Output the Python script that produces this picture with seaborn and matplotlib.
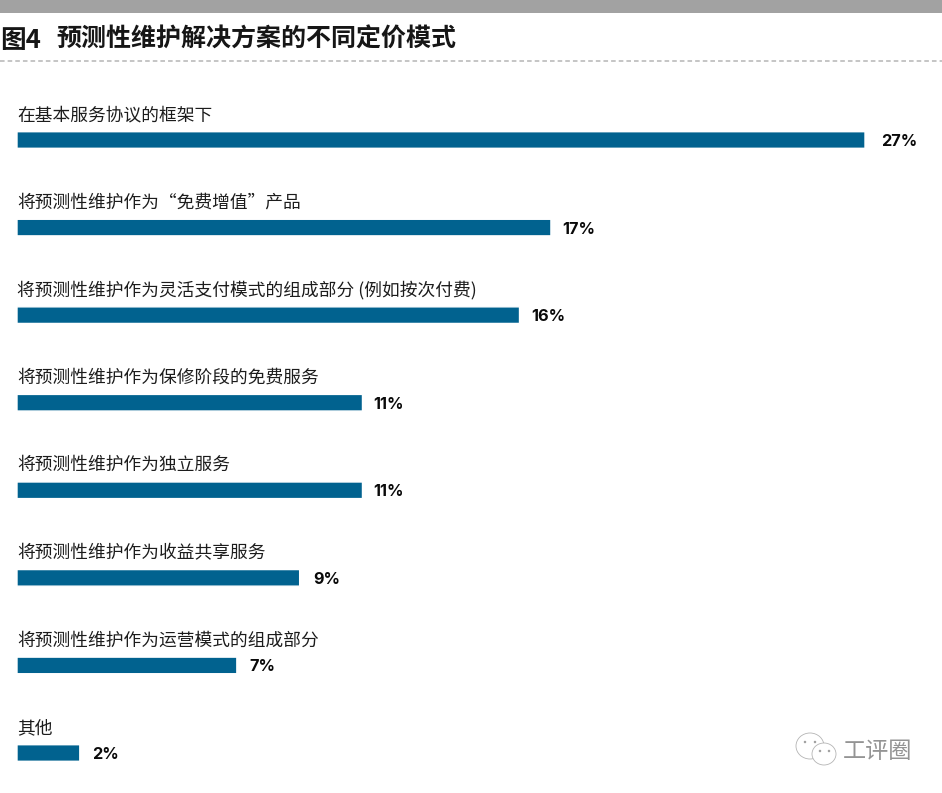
import matplotlib
matplotlib.use("Agg")
import matplotlib.pyplot as plt
from matplotlib.patches import Ellipse, Rectangle
from matplotlib.lines import Line2D
import pandas as pd
import seaborn as sns

title_prefix = "图4"
title_text = "预测性维护解决方案的不同定价模式"
categories = [
    "在基本服务协议的框架下",
    "将预测性维护作为“免费增值”产品",
    "将预测性维护作为灵活支付模式的组成部分 (例如按次付费)",
    "将预测性维护作为保修阶段的免费服务",
    "将预测性维护作为独立服务",
    "将预测性维护作为收益共享服务",
    "将预测性维护作为运营模式的组成部分",
    "其他",
]
values = [27, 17, 16, 11, 11, 9, 7, 2]
watermark = "工评圈"

W, H = 942, 793
sns.set_theme(style="white")
plt.rcParams["font.family"] = ["Noto Sans CJK SC", "DejaVu Sans"]

fig = plt.figure(figsize=(W / 100, H / 100), dpi=100, facecolor="white")

# axes placed in pixels
top, bottom, left, right = 96, 790, 17, 865
ax = fig.add_axes([left / W, 1 - bottom / H, (right - left) / W, (bottom - top) / H])
df = pd.DataFrame({"cat": categories, "val": values})
step = (753 - 140) / 7
sns.barplot(data=df, y="cat", x="val", orient="h", color="#01628f", saturation=1,
            width=16.6 / step, ax=ax)
for patch in ax.patches:
    patch.set_snap(False)
ax.set_xlim(0, 27)
ax.set_ylim((bottom - 140) / step, -(140 - top) / step)
ax.axis("off")

# gap between bar end and value label, in pixels (styling only)
gap_px = [16, 11, 12, 11, 11, 14, 13, 12]
PT = 0.72
for i, (c, v) in enumerate(zip(categories, values)):
    ax.annotate(c, (0, i), xytext=(0.2, 18), textcoords="offset points", va="center", ha="left",
                fontsize=12.75, color="#1c1c1c", fontweight="light", annotation_clip=False)
    ax.annotate(f"{v}%", (v, i), xytext=(gap_px[i] * PT, -1.1), textcoords="offset points", va="center", ha="left",
                fontsize=11.7, color="#0a0a0a", fontweight="bold", family="Inter", annotation_clip=False)

def fx(px): return px / W
def fy(py): return 1 - py / H

fig.add_artist(Rectangle((0, fy(12.5)), 1, 12.5 / H, transform=fig.transFigure, color="#a2a2a2", lw=0))
fig.add_artist(Line2D([0, 1], [fy(61), fy(61)], transform=fig.transFigure, color="#b5b5b5",
                      lw=1.1, ls=(0, (3, 2))))
fig.text(fx(0.5), fy(40), title_prefix, fontsize=18.5, fontweight="bold", color="#161616", va="center", ha="left")
fig.text(fx(56.5), fy(40), title_text, fontsize=18, fontweight="bold", color="#161616", va="center", ha="left")

# watermark: speech bubbles and name
fig.text(fx(842.5), fy(752), watermark, fontsize=16.7, fontweight="light", color="#949494", va="center", ha="left")
fig.add_artist(Ellipse((fx(810), fy(746)), 28 / W, 26 / H, transform=fig.transFigure, fc="white",
                       ec="#b4b4b4", lw=0.6))
fig.add_artist(Ellipse((fx(824), fy(754)), 24 / W, 22 / H, transform=fig.transFigure, fc="white",
                       ec="#b4b4b4", lw=0.6))
for px, py in [(805, 742), (815, 742), (820, 751), (829, 751)]:
    fig.add_artist(Ellipse((fx(px), fy(py)), 2.5 / W, 2.5 / H, transform=fig.transFigure, fc="#a0a0a0", lw=0))

fig.savefig("out.png", dpi=100, facecolor="white")
